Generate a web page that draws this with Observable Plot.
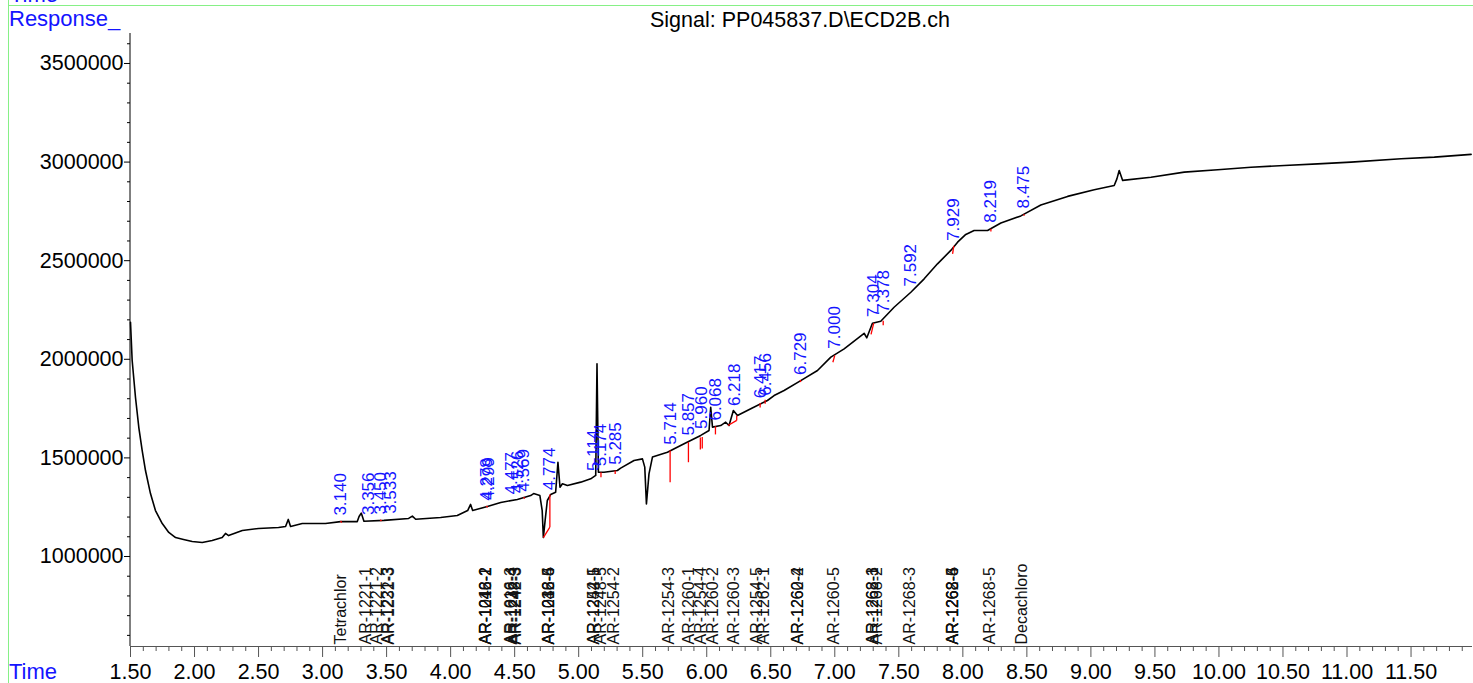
<!DOCTYPE html>
<html><head><meta charset="utf-8">
<script src="https://cdn.jsdelivr.net/npm/d3@7"></script>
<script src="https://cdn.jsdelivr.net/npm/@observablehq/plot@0.6"></script>
<style>html,body{margin:0;padding:0;background:#fff;overflow:hidden}svg{display:block}</style>
</head><body><div id="chart"></div>
<script>
// Chromatogram trace: [time (min), response]
const trace = [
[1.500,2187000],[1.513,1994000],[1.539,1806000],[1.565,1654000],[1.591,1538000],[1.617,1436000],
[1.656,1319000],[1.695,1233000],[1.748,1167000],[1.799,1122000],[1.852,1096000],[1.914,1086000],
[1.982,1076000],[2.060,1071000],[2.138,1081000],[2.216,1096000],[2.242,1117000],[2.266,1106000],
[2.373,1132000],[2.500,1142000],[2.656,1147000],[2.711,1152000],[2.732,1188000],[2.750,1152000],
[2.841,1167000],[3.023,1167000],[3.141,1177000],[3.271,1177000],[3.285,1203000],[3.302,1220000],
[3.323,1179000],[3.479,1183000],[3.672,1193000],[3.701,1205000],[3.727,1189000],[3.922,1198000],
[4.052,1208000],[4.133,1233000],[4.156,1264000],[4.172,1233000],[4.287,1254000],[4.391,1274000],
[4.521,1289000],[4.625,1309000],[4.648,1319000],[4.697,1309000],[4.715,1233000],[4.724,1096000],
[4.738,1183000],[4.755,1284000],[4.781,1314000],[4.820,1326000],[4.838,1478000],[4.854,1351000],
[4.873,1369000],[4.912,1360000],[5.016,1377000],[5.094,1394000],[5.133,1411000],[5.143,1977000],
[5.154,1427000],[5.198,1427000],[5.302,1436000],[5.328,1448000],[5.432,1487000],[5.498,1495000],
[5.516,1453000],[5.529,1267000],[5.549,1419000],[5.576,1504000],[5.693,1529000],[5.823,1572000],
[5.953,1614000],[6.018,1639000],[6.031,1757000],[6.045,1656000],[6.109,1664000],[6.148,1681000],
[6.174,1664000],[6.208,1740000],[6.240,1715000],[6.344,1749000],[6.474,1791000],[6.526,1816000],
[6.604,1842000],[6.734,1892000],[6.865,1943000],[6.969,2011000],[7.073,2053000],[7.229,2132000],
[7.250,2109000],[7.294,2183000],[7.359,2193000],[7.463,2264000],[7.594,2340000],[7.698,2408000],
[7.802,2484000],[7.906,2552000],[7.959,2594000],[8.023,2633000],[8.088,2653000],[8.193,2653000],
[8.297,2691000],[8.453,2727000],[8.609,2782000],[8.818,2826000],[9.026,2860000],[9.182,2881000],
[9.203,2915000],[9.221,2957000],[9.248,2907000],[9.469,2923000],[9.729,2949000],[9.990,2961000],
[10.250,2974000],[10.510,2983000],[10.771,2991000],[11.031,3000000],[11.422,3017000],[11.682,3025000],
[11.969,3039000]
];

// Integrated peak retention times (blue labels)
const peakLabels = ["3.140","3.356","3.450","3.533","4.278","4.299","4.477","4.526","4.569","4.774",
  "5.114","5.174","5.285","5.714","5.857","5.960","6.068","6.218","6.417","6.456","6.729","7.000",
  "7.304","7.378","7.592","7.929","8.219","8.475"];

// Expected compound windows (black labels along the bottom)
const compoundNames = ["Tetrachlor","AR-1221-1","AR-1221-2","AR-1221-3","AR-1232-3",
  "AR-1016-2","AR-1242-1","AR-1248-2","AR-1016-3","AR-1232-4","AR-1248-3","AR-1242-3",
  "AR-1016-6","AR-1232-5","AR-1248-4","AR-1242-5","AR-1254-1","AR-1248-5","AR-1254-2",
  "AR-1254-3","AR-1260-1","AR-1254-4","AR-1260-2","AR-1260-3","AR-1254-5","AR-1262-1",
  "AR-1260-4","AR-1262-2","AR-1260-5","AR-1268-1","AR-1262-3","AR-1268-2","AR-1268-3",
  "AR-1268-4","AR-1262-5","AR-1268-6","AR-1268-5","Decachloro"];
const compoundTimes = [3.141,3.336,3.427,3.510,3.514,4.273,4.273,4.276,4.469,4.480,4.500,4.508,
  4.765,4.768,4.768,5.117,5.120,5.172,5.276,5.705,5.859,5.953,6.045,6.209,6.391,6.445,6.709,6.709,
  6.995,7.294,7.300,7.328,7.586,7.919,7.919,7.919,8.211,8.461];

// Integration baseline segments (red): [t1, v1, t2, v2]
const baselines = [
  [4.724,1096000,4.775,1149000],[4.775,1149000,4.775,1314000],[5.174,1427000,5.174,1402000],
  [5.285,1436000,5.285,1418000],[5.714,1537000,5.714,1377000],[5.857,1580000,5.857,1478000],
  [5.950,1603000,5.950,1543000],[5.965,1606000,5.965,1548000],[6.068,1660000,6.068,1619000],
  [6.166,1664000,6.234,1690000],[6.234,1690000,6.234,1715000],[6.417,1778000,6.417,1755000],
  [6.456,1795000,6.456,1775000],[7.000,2020000,6.985,1985000],[7.283,2126000,7.304,2183000],
  [7.378,2195000,7.378,2172000],[7.929,2575000,7.920,2535000],[8.219,2662000,8.219,2648000],
  [3.140,1180000,3.150,1172000],[3.450,1186000,3.460,1180000],[4.278,1256000,4.290,1250000],
  [4.569,1300000,4.580,1294000],[6.729,1895000,6.735,1885000],[8.475,2735000,8.480,2728000]
];

const xMajorTicks = d3.range(15, 116, 5).map(d => d / 10);
const xMinorTicks = d3.range(15, 120).filter(d => d % 5).map(d => d / 10);
const yMajorTicks = [1000000, 1500000, 2000000, 2500000, 3000000, 3500000];
const yMinorTicks = d3.range(6, 37).filter(d => d % 5).map(d => d * 100000);

const times = trace.map(d => d[0]);
const bis = d3.bisector(d => d).left;
function respAt(t) {
  const i = Math.max(1, Math.min(times.length - 1, bis(times, t)));
  const a = trace[i - 1], b = trace[i];
  return a[1] + (b[1] - a[1]) * (t - a[0]) / (b[0] - a[0]);
}
const peaks = peakLabels.map(l => ({label: l, t: +l, v: respAt(+l)}));
const compounds = compoundNames.map((n, i) => ({name: n, t: compoundTimes[i]}));

const yMin = 543600, yMax = 3652000;
const FONT = "'Liberation Sans', Arial, Helvetica, sans-serif";

const chart = Plot.plot({
  width: 1473, height: 683,
  marginLeft: 130, marginRight: 1, marginTop: 33, marginBottom: 37,
  style: {fontFamily: FONT, fontSize: "21.5px", background: "white", color: "black"},
  x: {domain: [1.5, 11.98]},
  y: {domain: [yMin, yMax]},
  marks: [
    Plot.axisY({ticks: yMajorTicks, tickSize: 6, tickPadding: 1, tickFormat: d3.format("d"), fontSize: 21.5, label: null, stroke: "black"}),
    Plot.axisY({ticks: yMinorTicks, tickSize: 3, text: null, label: null, stroke: "black"}),
    Plot.axisX({ticks: xMajorTicks, tickSize: 11, tickPadding: 6, tickFormat: d3.format(".2f"), fontSize: 21.5, label: null, stroke: "#555"}),
    Plot.axisX({ticks: xMinorTicks, tickSize: 5, text: null, label: null, stroke: "#555"}),
    Plot.ruleX([1.5], {stroke: "black", dx: -0.5}),
    Plot.ruleY([yMin], {stroke: "#555"}),
    Plot.text(compounds, {x: "t", y: () => yMin, text: "name", rotate: -90, textAnchor: "start", dy: -2, fontSize: 16, fill: "#111"}),
    Plot.line(trace, {x: d => d[0], y: d => d[1], stroke: "black", strokeWidth: 1.6}),
    Plot.link(baselines, {x1: d => d[0], y1: d => d[1], x2: d => d[2], y2: d => d[3], stroke: "#ff0000", strokeWidth: 1.3}),
    Plot.text(peaks, {x: "t", y: "v", text: "label", rotate: -90, textAnchor: "start", dy: -6, fontSize: 17, fill: "#1414ff"})
  ]
});

const svg = d3.select(chart);
svg.append("line").attr("x1", 8.5).attr("x2", 8.5).attr("y1", 0).attr("y2", 683).attr("stroke", "#86f086").attr("stroke-width", 1);
svg.append("line").attr("x1", 8).attr("x2", 1473).attr("y1", 5.5).attr("y2", 5.5).attr("stroke", "#86f086").attr("stroke-width", 1);
const addText = (txt, x, y, anchor, fill, size) => svg.append("text").attr("x", x).attr("y", y)
  .attr("text-anchor", anchor).attr("fill", fill).attr("font-family", FONT).attr("font-size", size).text(txt);
addText("Time", 10, 2, "start", "#1414ff", 22);
addText("Response_", 9, 26, "start", "#1414ff", 22);
addText("Time", 9, 679, "start", "#1414ff", 22);
addText("Signal: PP045837.D\\ECD2B.ch", 800, 27, "middle", "#000", 21.5);

document.getElementById("chart").appendChild(chart);
</script>
</body></html>
